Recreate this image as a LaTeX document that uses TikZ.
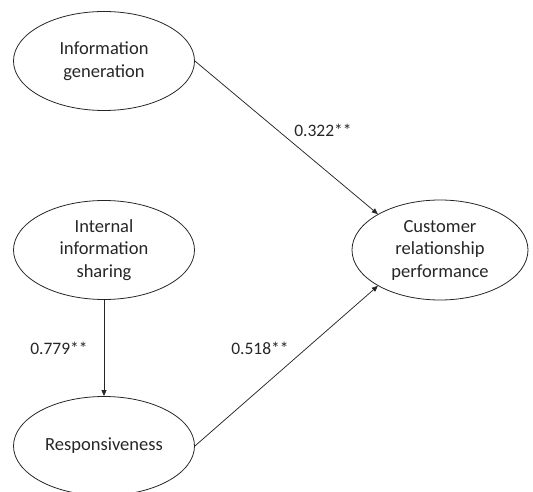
\documentclass[tikz,border=0pt]{standalone}
\usepackage{fontspec}
\setmainfont{Carlito}
\usepackage{tikz}
\usetikzlibrary{positioning,calc,arrows.meta,shapes.geometric}

\begin{document}
\begin{tikzpicture}[x=1pt,y=-1pt,
	construct/.style={ellipse,draw=black!85,line width=0.8pt,minimum width=181pt,minimum height=99pt,inner sep=0pt,align=center,font=\fontsize{18.5}{22.5}\selectfont,text=black!85},
	path/.style={draw=black!85,line width=0.75pt,-{Triangle[length=6pt,width=5pt]}},
	coef/.style={font=\fontsize{17.5}{20}\selectfont,text=black!85,inner sep=0pt}]
								\useasboundingbox (0,0) rectangle (533,492);
								\def\colL{104}
								\def\colR{440}
								
								% left column
								\node[construct] (infogen) at (\colL,61) {Information\\generation};
								\node[construct] (intshare) at (\colL,250) {Internal\\information\\sharing};
								\node[construct] (respons) at (\colL,446) {Responsiveness};
								% right: outcome
								\node[construct,minimum width=176pt,minimum height=100pt] (crp) at (\colR,250) {Customer\\relationship\\performance};
								
								% paths
								\draw[path] (infogen.east) -- (crp.150);
								\draw[path] (intshare.south) -- (respons.north);
								\draw[path] (respons.east) -- (crp.210);
								
								% coefficients
								\node[coef] (c1) at (323,130) {0.322**};
								\node[coef] (c2) at (59,348) {0.779**};
								\node[coef] (c3) at (260,348) {0.518**};
							\end{tikzpicture}
\end{document}
